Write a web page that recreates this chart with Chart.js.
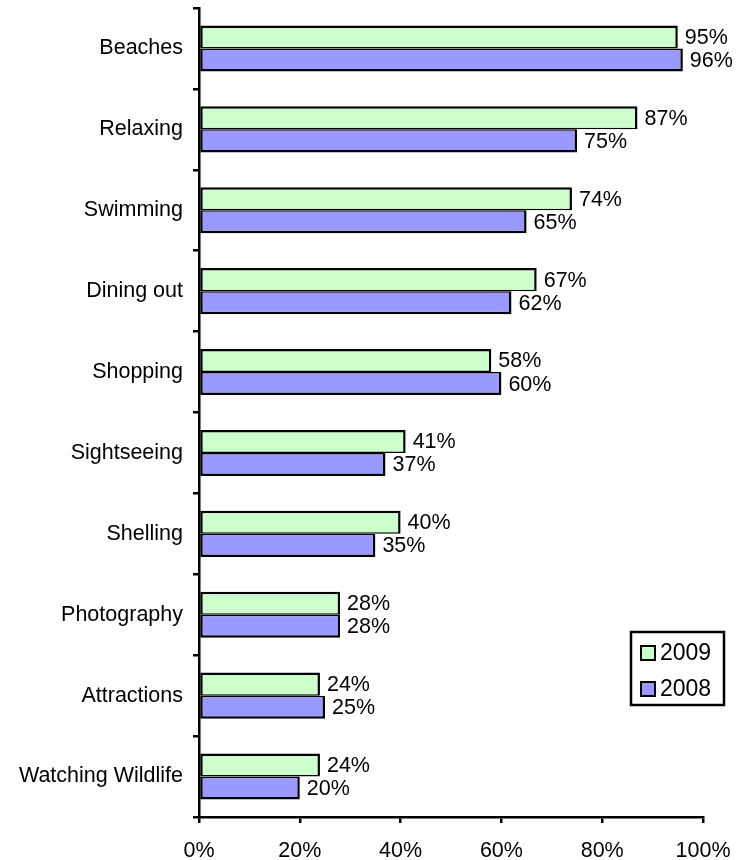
<!DOCTYPE html>
<html>
<head>
<meta charset="utf-8">
<script src="https://cdn.jsdelivr.net/npm/chart.js@4"></script>
<style>
  html, body { margin: 0; padding: 0; background: #fff; }
  #wrap { width: 738px; height: 860px; }
</style>
</head>
<body>
<div id="wrap"><canvas id="graficoActividades" width="738" height="860"></canvas></div>
<script>
// Actividades de los visitantes, % por año
const categorias = ['Beaches', 'Relaxing', 'Swimming', 'Dining out', 'Shopping',
  'Sightseeing', 'Shelling', 'Photography', 'Attractions', 'Watching Wildlife'];
const valores2009 = [95, 87, 74, 67, 58, 41, 40, 28, 24, 24];
const valores2008 = [96, 75, 65, 62, 60, 37, 35, 28, 25, 20];
const ticksX = [0, 20, 40, 60, 80, 100];

const FUENTE = '"Liberation Sans", Arial, sans-serif';

// Etiquetas de valor a la derecha de cada barra
const etiquetasValor = {
  id: 'etiquetasValor',
  afterDatasetsDraw(chart) {
    const { ctx } = chart;
    ctx.save();
    ctx.font = '21.5px ' + FUENTE;
    ctx.fillStyle = '#000';
    ctx.textAlign = 'left';
    ctx.textBaseline = 'middle';
    chart.data.datasets.forEach((ds, i) => {
      chart.getDatasetMeta(i).data.forEach((bar, j) => {
        ctx.fillText(ds.data[j] + '%', bar.x + 7, bar.y + 1);
      });
    });
    ctx.restore();
  }
};

// Leyenda en recuadro dentro del área del gráfico
const leyendaCaja = {
  id: 'leyendaCaja',
  afterDraw(chart) {
    const { ctx } = chart;
    const x = 631, y = 632, w = 93, h = 73;
    ctx.save();
    ctx.fillStyle = '#fff';
    ctx.fillRect(x, y, w, h);
    ctx.strokeStyle = '#000';
    ctx.lineWidth = 2.5;
    ctx.strokeRect(x, y, w, h);
    ctx.font = '23px ' + FUENTE;
    ctx.textBaseline = 'middle';
    chart.data.datasets.forEach((ds, i) => {
      const cy = y + 21 + i * 36;
      ctx.fillStyle = ds.backgroundColor;
      ctx.fillRect(x + 10, cy - 7, 14, 14);
      ctx.lineWidth = 2;
      ctx.strokeRect(x + 10, cy - 7, 14, 14);
      ctx.fillStyle = '#000';
      ctx.fillText(ds.label, x + 29, cy + 1);
    });
    ctx.restore();
  }
};

const ctx = document.getElementById('graficoActividades').getContext('2d');

new Chart(ctx, {
  type: 'bar',
  data: {
    labels: categorias,
    datasets: [
      {
        label: '2009',
        data: valores2009,
        backgroundColor: '#CCFFCC',
        borderColor: '#000',
        borderWidth: { top: 2.5, right: 2.5, bottom: 1.5, left: 2.5 },
        borderSkipped: false
      },
      {
        label: '2008',
        data: valores2008,
        backgroundColor: '#9999FF',
        borderColor: '#000',
        borderWidth: { top: 1.5, right: 2.5, bottom: 2.5, left: 2.5 },
        borderSkipped: false
      }
    ]
  },
  options: {
    indexAxis: 'y',
    responsive: false,
    animation: false,
    categoryPercentage: 0.57,
    barPercentage: 1.0,
    layout: { padding: { top: 8, right: 35, left: 0, bottom: 0 } },
    plugins: {
      legend: { display: false },
      tooltip: { enabled: false }
    },
    scales: {
      x: {
        min: 0,
        max: 100,
        afterBuildTicks: (scale) => { scale.ticks = ticksX.map(v => ({ value: v })); },
        afterFit: (scale) => {
          scale.height = 43;
          scale.paddingLeft = 0;
          scale.paddingRight = 0;
        },
        ticks: {
          color: '#000',
          font: { size: 21.5, family: FUENTE },
          padding: 15,
          maxRotation: 0,
          callback: (v) => v + '%'
        },
        grid: { drawOnChartArea: false, color: '#000', lineWidth: 2.5, tickLength: 6 },
        border: { color: '#000', width: 2.5 }
      },
      y: {
        afterFit: (scale) => {
          scale.width = 199;
          scale.paddingTop = 0;
          scale.paddingBottom = 0;
        },
        ticks: {
          color: '#000',
          font: { size: 21.5, family: FUENTE },
          padding: 10
        },
        grid: { drawOnChartArea: false, offset: true, color: '#000', lineWidth: 2.5, tickLength: 6 },
        border: { color: '#000', width: 2.5 }
      }
    }
  },
  plugins: [etiquetasValor, leyendaCaja]
});
</script>
</body>
</html>
